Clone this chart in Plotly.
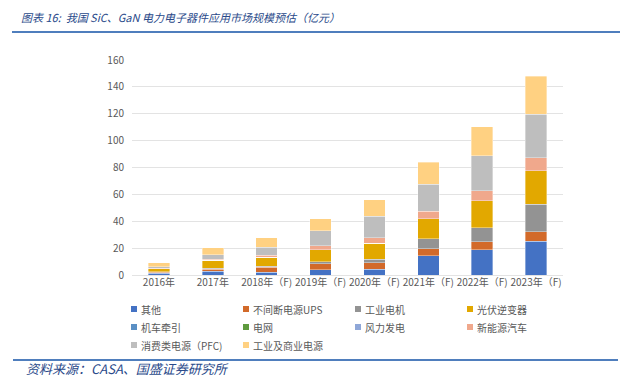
import plotly.graph_objects as go

years = ["2016年", "2017年", "2018年（F)", "2019年（F)", "2020年（F)", "2021年（F)", "2022年（F)", "2023年（F)"]

other = [1.2, 2.7, 2.0, 4.0, 4.2, 14.4, 18.9, 25.3]
ups = [0.7, 1.7, 3.7, 4.5, 5.0, 5.2, 6.0, 6.9]
ind_motor = [0.5, 0.7, 0.7, 1.2, 2.5, 7.2, 10.4, 20.6]
pv_inverter = [2.2, 6.0, 6.7, 9.2, 12.0, 14.9, 19.9, 24.8]
traction = [0, 0, 0, 0, 0, 0, 0, 0]
grid = [0, 0, 0, 0, 0, 0, 0, 0]
wind = [0, 0, 0, 0, 0, 0, 0, 0]
nev = [0.3, 0.5, 1.5, 3.0, 4.2, 5.7, 7.4, 9.7]
consumer_pfc = [1.2, 3.5, 6.0, 10.9, 16.0, 20.1, 26.0, 32.5]
ind_comm_power = [3.2, 5.2, 7.2, 8.9, 12.0, 16.4, 21.6, 28.0]

series_names = ["其他", "不间断电源UPS", "工业电机", "光伏逆变器", "机车牵引", "电网",
                "风力发电", "新能源汽车", "消费类电源（PFC)", "工业及商业电源"]
series_values = [other, ups, ind_motor, pv_inverter, traction, grid, wind, nev,
                 consumer_pfc, ind_comm_power]
colors = ["#4472C4", "#D26A2A", "#939393", "#E2A800", "#5A8FC4", "#5E9A3E",
          "#8FA7D8", "#F0A88C", "#BEBEBE", "#FFD182"]

y_ticks = [0, 20, 40, 60, 80, 100, 120, 140, 160]

font_family = "Noto Sans CJK SC, Noto Sans, sans-serif"

# page body has an 8px default margin; work in screenshot pixels
OFF = 8
FW, FH = 628 - OFF, 384 - OFF
L, R, T, B = 132 - OFF, 563 - OFF, 60 - OFF, 275 - OFF
W, H = R - L, B - T


def px_x(px):
    return (px - OFF - L) / W


def px_y(py):
    return (B - (py - OFF)) / H


fig = go.Figure()
for name, vals, col in zip(series_names, series_values, colors):
    fig.add_trace(go.Bar(
        x=years, y=vals, name=name, showlegend=False,
        marker=dict(color=col, line=dict(color="rgba(255,255,255,0.6)", width=0.6)),
    ))

fig.update_layout(
    barmode="stack",
    bargap=0.6,
    width=FW, height=FH,
    margin=dict(l=L, r=FW - R, t=T, b=FH - B, autoexpand=False),
    paper_bgcolor="white", plot_bgcolor="white",
    font=dict(family=font_family, size=10, color="#595959"),
    title=dict(
        text="图表 16:  我国 SiC、GaN 电力电子器件应用市场规模预估（亿元）",
        x=(21 - OFF)/FW, xanchor="left", xref="container",
        y=1-(18 - OFF)/FH, yanchor="middle", yref="container",
        font=dict(family=font_family, size=11, color="#2A4A8A", style="italic"),
    ),
    xaxis=dict(showgrid=False, showline=False, ticks="", tickfont=dict(size=10, color="#595959")),
    yaxis=dict(range=[0, 160], tickvals=y_ticks, showgrid=True, gridcolor="#E3E3E3",
               gridwidth=1, zeroline=True, zerolinecolor="#E3E3E3", zerolinewidth=1,
               ticks="", ticklabelstandoff=7, tickfont=dict(size=10, color="#595959")),
    showlegend=False,
)

# custom legend (4 columns x 3 rows)
row_y = [309, 327, 345]
for i, (name, col) in enumerate(zip(series_names, colors)):
    r, c = divmod(i, 4)
    mx = 131 + 112 * c
    my = row_y[r]
    fig.add_shape(type="rect", xref="paper", yref="paper",
                  x0=px_x(mx), x1=px_x(mx + 6), y0=px_y(my + 3), y1=px_y(my - 3),
                  fillcolor=col, line=dict(width=0))
    fig.add_annotation(text=name, xref="paper", yref="paper",
                       x=px_x(mx + 8), y=px_y(my), xanchor="left", yanchor="middle",
                       showarrow=False, font=dict(size=10, color="#595959"))

fig.add_shape(type="line", xref="paper", yref="paper",
              x0=px_x(12), x1=px_x(640), y0=px_y(32), y1=px_y(32),
              line=dict(color="#4F7EBD", width=2))
fig.add_shape(type="line", xref="paper", yref="paper",
              x0=px_x(13), x1=px_x(618), y0=px_y(360), y1=px_y(360),
              line=dict(color="#4F7EBD", width=2))
fig.add_annotation(text="资料来源：CASA、国盛证券研究所", xref="paper", yref="paper",
                   x=px_x(24), y=px_y(368), xanchor="left", yanchor="middle",
                   showarrow=False,
                   font=dict(family=font_family, size=13, color="#2A4A8A", style="italic"))

fig.write_html("out.html")
